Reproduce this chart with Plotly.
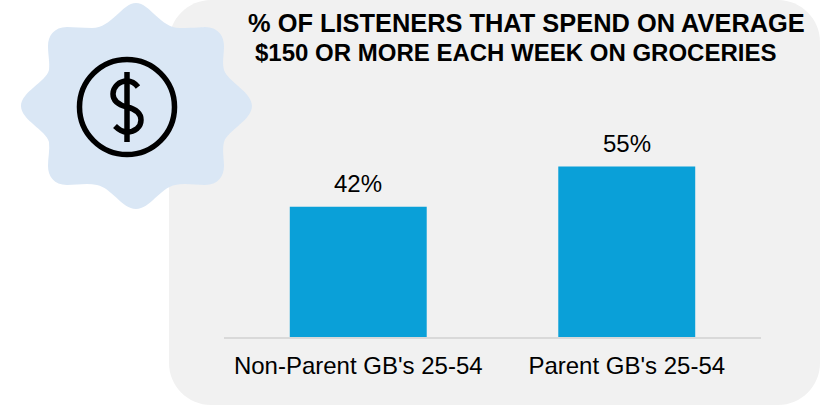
import plotly.graph_objects as go

categories = ["Non-Parent GB's 25-54", "Parent GB's 25-54"]
values = [42, 55]
value_labels = ["42%", "55%"]
title_lines = ["% OF LISTENERS THAT SPEND ON AVERAGE", "$150 OR MORE EACH WEEK ON GROCERIES"]

W, H = 821, 405
L, R, T, B = 224, 60, 151, 68
FONT = "Liberation Sans"


def fx(x):
    return (x - L) / (W - L - R)


def fy(y):
    return (H - B - y) / (H - T - B)


def path(cmds):
    """Build an SVG path from page-pixel commands, in paper coordinates."""
    out = []
    for c in cmds:
        if isinstance(c, str):
            out.append(c)
        else:
            out.append(f"{fx(c[0]):.5f},{fy(c[1]):.5f}")
    return " ".join(out)


def rounded_rect(x0, y0, x1, y1, r):
    k = 0.55 * r
    return path([
        "M", (x0 + r, y0), "L", (x1 - r, y0),
        "C", (x1 - r + k, y0), (x1, y0 + r - k), (x1, y0 + r),
        "L", (x1, y1 - r),
        "C", (x1, y1 - r + k), (x1 - r + k, y1), (x1 - r, y1),
        "L", (x0 + r, y1),
        "C", (x0 + r - k, y1), (x0, y1 - r + k), (x0, y1 - r),
        "L", (x0, y0 + r),
        "C", (x0, y0 + r - k), (x0 + r - k, y0), (x0 + r, y0), "Z",
    ])


# wavy badge outline, clockwise from the top lobe
badge = path([
    "M", (136, 3),
    "C", (150, 3), (160, 28), (180, 28),
    "C", (195, 28), (205, 27), (205, 27),
    "C", (218, 27), (224, 36), (224, 46),
    "C", (224, 55), (222, 62), (224, 70),
    "C", (228, 82), (252, 92), (252, 106),
    "C", (252, 120), (228, 130), (224, 142),
    "C", (222, 150), (224, 158), (224, 166),
    "C", (224, 176), (218, 185), (205, 185),
    "C", (195, 185), (185, 183), (175, 185),
    "C", (160, 188), (150, 209), (136, 209),
    "C", (122, 209), (112, 188), (97, 185),
    "C", (87, 183), (77, 185), (67, 185),
    "C", (54, 185), (48, 176), (48, 166),
    "C", (48, 158), (50, 150), (49, 142),
    "C", (46, 130), (21, 120), (21, 106),
    "C", (21, 92), (46, 82), (49, 70),
    "C", (50, 62), (48, 55), (48, 46),
    "C", (48, 36), (54, 27), (67, 27),
    "C", (74, 27), (82, 28), (92, 28),
    "C", (112, 28), (122, 3), (136, 3), "Z",
])

# dollar sign strokes inside the coin
dollar_s = path([
    "M", (138, 87),
    "C", (135, 83), (131, 81), (127, 81),
    "C", (119, 81), (113, 87), (113, 94),
    "C", (113, 101), (119, 105), (127, 107),
    "C", (135, 109), (141, 113), (141, 120),
    "C", (141, 127), (135, 132), (127, 132),
    "C", (122, 132), (118, 129), (115, 126),
])
dollar_bar = path(["M", (127, 72), "L", (127, 142)])

shapes = [
    dict(type="path", xref="paper", yref="paper", layer="below",
         path=rounded_rect(169, 0, 820, 405, 42), fillcolor="#f1f1f1", line_width=0),
    dict(type="path", xref="paper", yref="paper", layer="below",
         path=badge, fillcolor="#dae7f5", line_width=0),
    dict(type="circle", xref="paper", yref="paper", layer="above",
         x0=fx(79.5), x1=fx(174.5), y0=fy(154.5), y1=fy(59.5),
         fillcolor="rgba(0,0,0,0)", line=dict(color="#000000", width=5.5)),
    dict(type="path", xref="paper", yref="paper", layer="above",
         path=dollar_s, line=dict(color="#000000", width=5.5)),
    dict(type="path", xref="paper", yref="paper", layer="above",
         path=dollar_bar, line=dict(color="#000000", width=5.5)),
]

annotations = [
    dict(text=f"<b>{line}</b>", xref="paper", yref="paper", x=fx(cx), y=fy(y),
         xanchor="center", yanchor="middle", showarrow=False,
         font=dict(family=FONT, size=size, color="#000000"))
    for line, cx, y, size in zip(title_lines, [526.5, 515], [23, 52], [25.4, 24])
]
annotations += [
    dict(text=label, x=cat, y=val, xref="x", yref="y", xanchor="center", yanchor="bottom",
         yshift=8, showarrow=False, font=dict(family=FONT, size=24, color="#000000"))
    for cat, val, label in zip(categories, values, value_labels)
]

fig = go.Figure(go.Bar(
    x=categories, y=values, marker=dict(color="#0aa0d8", line_width=0), hoverinfo="skip",
))
fig.update_layout(
    width=W, height=H, autosize=False,
    margin=dict(l=L, r=R, t=T, b=B, pad=0),
    paper_bgcolor="#ffffff", plot_bgcolor="rgba(0,0,0,0)",
    bargap=0.49, showlegend=False, shapes=shapes, annotations=annotations,
)
fig.update_xaxes(showline=True, linecolor="#d9d9d9", linewidth=2, ticks="", showgrid=False,
                 zeroline=False, ticklabelstandoff=6,
                 tickfont=dict(family=FONT, size=24, color="#000000"))
fig.update_yaxes(range=[0, 60], visible=False, showgrid=False, zeroline=False)
fig.write_html("out.html", config=dict(displayModeBar=False))
